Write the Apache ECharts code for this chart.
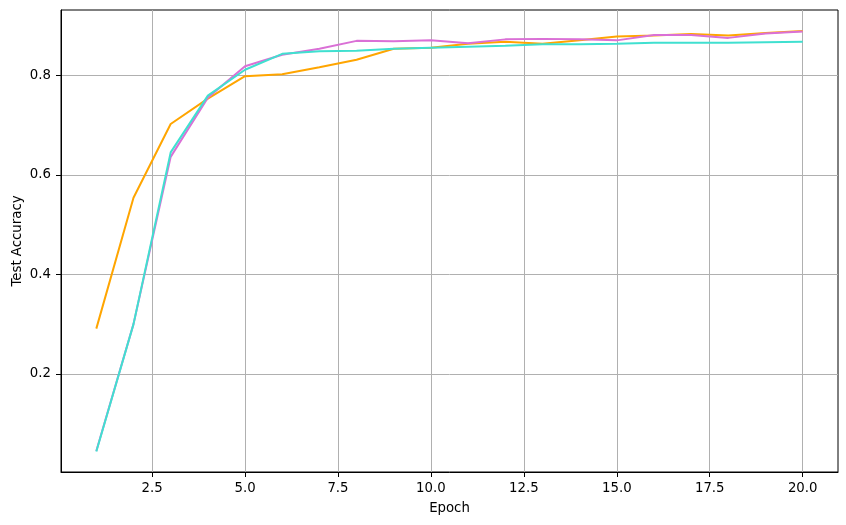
<!DOCTYPE html>
<html>
<head>
<meta charset="utf-8">
<script src="https://cdn.jsdelivr.net/npm/echarts@6/dist/echarts.min.js"></script>
<style>
  html, body { margin: 0; padding: 0; background: #fff; }
  #main { width: 846px; height: 525px; }
</style>
</head>
<body>
<div id="main"></div>
<script>
var epochs = [1, 2, 3, 4, 5, 6, 7, 8, 9, 10, 11, 12, 13, 14, 15, 16, 17, 18, 19, 20];
var orangeAcc = [0.291, 0.554, 0.702, 0.753, 0.798, 0.802, 0.816, 0.831, 0.853, 0.855, 0.863, 0.867, 0.863, 0.870, 0.878, 0.880, 0.883, 0.880, 0.885, 0.889];
var orchidAcc = [0.045, 0.300, 0.636, 0.755, 0.818, 0.841, 0.853, 0.869, 0.868, 0.870, 0.864, 0.872, 0.873, 0.872, 0.870, 0.881, 0.881, 0.875, 0.884, 0.888];
var turquoiseAcc = [0.044, 0.300, 0.645, 0.759, 0.811, 0.843, 0.848, 0.849, 0.853, 0.855, 0.857, 0.859, 0.862, 0.862, 0.863, 0.865, 0.865, 0.865, 0.866, 0.867];
var xTicks = [2.5, 5.0, 7.5, 10.0, 12.5, 15.0, 17.5, 20.0];
var yTicks = [0.2, 0.4, 0.6, 0.8];

function pairs(vals) {
    var out = [];
    for (var i = 0; i < epochs.length; i++) {
        out.push([epochs[i], vals[i]]);
    }
    return out;
}

function line(vals, color) {
    return {
        type: 'line',
        data: pairs(vals),
        showSymbol: false,
        symbol: 'none',
        lineStyle: { color: color, width: 2 },
        itemStyle: { color: color },
        animation: false
    };
}

var font = 'DejaVu Sans';
var myChart = echarts.init(document.getElementById('main'));
var option = {
    animation: false,
    grid: {
        left: 61, right: 8, top: 10, bottom: 53,
        containLabel: false,
        outerBoundsMode: 'none',
        show: true, borderColor: '#000', borderWidth: 1
    },
    xAxis: {
        type: 'value',
        min: 0.05,
        max: 20.95,
        name: 'Epoch',
        nameLocation: 'middle',
        nameGap: 30,
        nameMoveOverlap: false,
        nameTextStyle: { fontFamily: font, fontSize: 13.3, color: '#000' },
        axisLine: { show: true, lineStyle: { color: '#000', width: 1 } },
        axisTick: { show: true, length: 5, inside: false, customValues: xTicks, lineStyle: { color: '#000' } },
        axisLabel: {
            customValues: xTicks, margin: 10, fontFamily: font, fontSize: 13.3, color: '#000',
            formatter: function (v) { return v.toFixed(1); }
        },
        splitLine: { show: true, lineStyle: { color: '#b0b0b0', width: 1 } }
    },
    yAxis: {
        type: 'value',
        min: 0.003,
        max: 0.931,
        name: 'Test Accuracy',
        nameLocation: 'middle',
        nameGap: 37,
        nameMoveOverlap: false,
        nameTextStyle: { fontFamily: font, fontSize: 13.3, color: '#000' },
        axisLine: { show: true, lineStyle: { color: '#000', width: 1 } },
        axisTick: { show: true, length: 5, inside: false, customValues: yTicks, lineStyle: { color: '#000' } },
        axisLabel: {
            customValues: yTicks, margin: 10, fontFamily: font, fontSize: 13.3, color: '#000',
            formatter: function (v) { return v.toFixed(1); }
        },
        splitLine: { show: true, lineStyle: { color: '#b0b0b0', width: 1 } }
    },
    series: [
        line(orangeAcc, '#FFA500'),
        line(orchidAcc, '#DA70D6'),
        line(turquoiseAcc, '#40E0D0')
    ]
};
myChart.setOption(option);
</script>
</body>
</html>
